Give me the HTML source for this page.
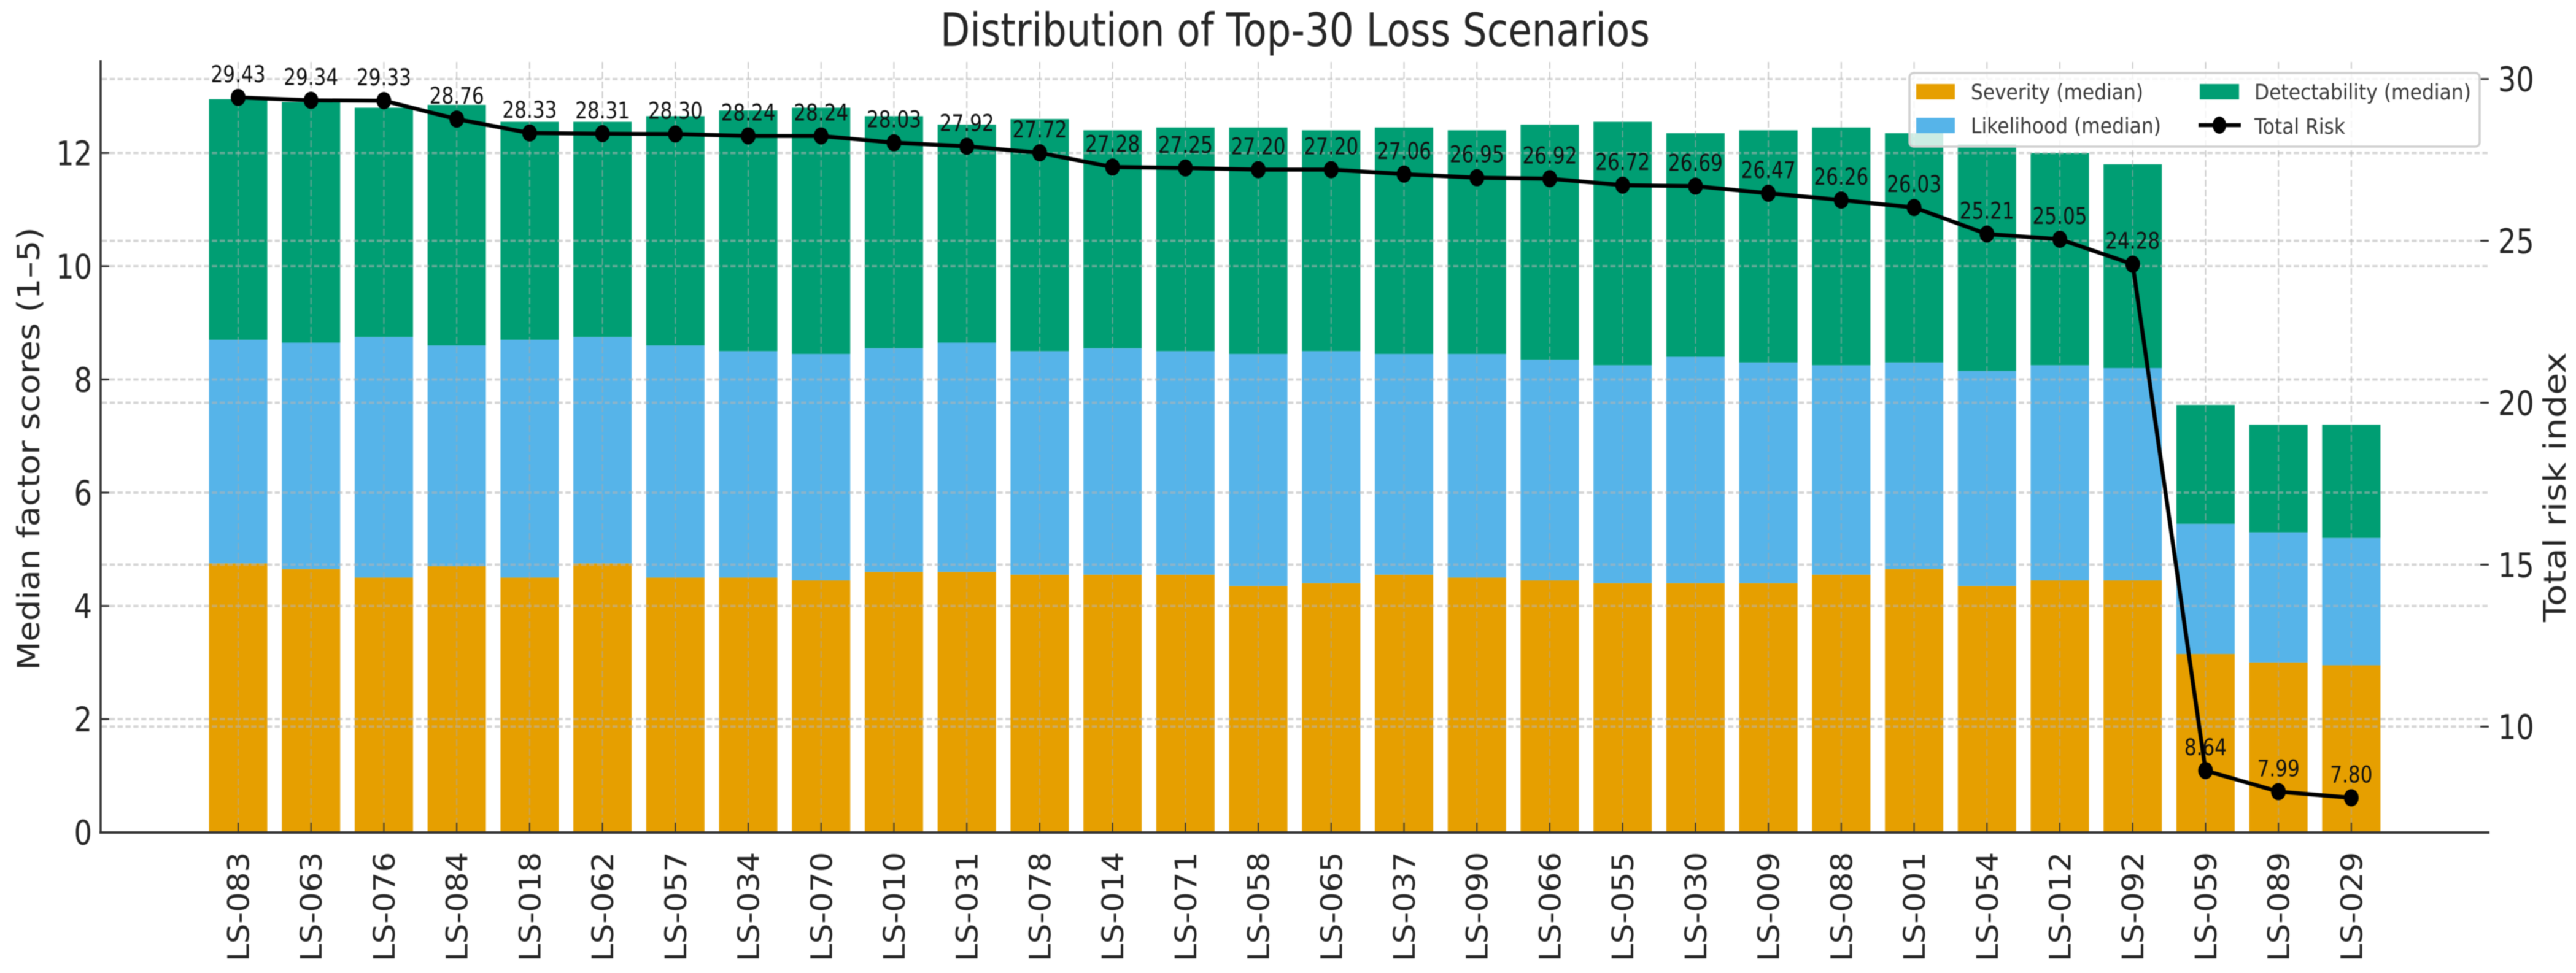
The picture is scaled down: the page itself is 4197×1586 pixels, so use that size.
<!DOCTYPE html>
<html lang="en">
<head>
<meta charset="utf-8">
<title>Distribution of Top-30 Loss Scenarios</title>
<style>
html,body{margin:0;padding:0;background:#fff;}
svg{display:block;}
text{font-family:"DejaVu Sans","Liberation Sans",sans-serif;}
#scene{filter:blur(0.8px);}
</style>
</head>
<body>
<svg id="chart" xmlns="http://www.w3.org/2000/svg" width="4197" height="1586" viewBox="0 0 4197 1586">
  <rect x="0" y="0" width="4197" height="1586" fill="#ffffff"/>
  <g id="scene">
    <text x="2110" y="75" font-size="75" fill="#262626" text-anchor="middle" textLength="1156" lengthAdjust="spacingAndGlyphs">Distribution of Top-30 Loss Scenarios</text>
    <g id="bars"></g>
    <g id="grid"></g>
    <g id="axes"></g>
    <g id="risk"></g>
    <text transform="translate(64,731.5) rotate(-90)" font-size="50" fill="#262626" text-anchor="middle" textLength="722" lengthAdjust="spacingAndGlyphs">Median factor scores (1–5)</text>
    <text transform="translate(4180,794) rotate(-90)" font-size="50" fill="#262626" text-anchor="middle" textLength="440" lengthAdjust="spacingAndGlyphs">Total risk index</text>
    <g>
      <rect x="3111" y="119" width="929" height="120" rx="7" ry="7" fill="#ffffff" fill-opacity="0.8" stroke="#cfcfcf" stroke-width="3.5"/>
      <rect x="3122" y="137" width="63" height="25" fill="#E69F00"/>
      <text x="3211" y="162" font-size="35" fill="#3a3a3a" textLength="281" lengthAdjust="spacingAndGlyphs">Severity (median)</text>
      <rect x="3122" y="192" width="63" height="25" fill="#56B4E9"/>
      <text x="3211" y="217" font-size="35" fill="#3a3a3a" textLength="310" lengthAdjust="spacingAndGlyphs">Likelihood (median)</text>
      <rect x="3584" y="137" width="64" height="25" fill="#009E73"/>
      <text x="3673" y="162" font-size="35" fill="#3a3a3a" textLength="353" lengthAdjust="spacingAndGlyphs">Detectability (median)</text>
      <line x1="3582" y1="204" x2="3651" y2="204" stroke="#000" stroke-width="6.5"/>
      <ellipse cx="3616" cy="204" rx="11" ry="14" fill="#000"/>
      <text x="3673" y="218" font-size="35" fill="#3a3a3a" textLength="148" lengthAdjust="spacingAndGlyphs">Total Risk</text>
    </g>
  </g>
</svg>
<script>
const categories = ["LS-083","LS-063","LS-076","LS-084","LS-018","LS-062","LS-057","LS-034","LS-070","LS-010","LS-031","LS-078","LS-014","LS-071","LS-058","LS-065","LS-037","LS-090","LS-066","LS-055","LS-030","LS-009","LS-088","LS-001","LS-054","LS-012","LS-092","LS-059","LS-089","LS-029"];
const severity = [4.75,4.65,4.5,4.7,4.5,4.75,4.5,4.5,4.45,4.6,4.6,4.55,4.55,4.55,4.35,4.4,4.55,4.5,4.45,4.4,4.4,4.4,4.55,4.65,4.35,4.45,4.45,3.15,3.0,2.95];
const likelihood = [3.95,4.0,4.25,3.9,4.2,4.0,4.1,4.0,4.0,3.95,4.05,3.95,4.0,3.95,4.1,4.1,3.9,3.95,3.9,3.85,4.0,3.9,3.7,3.65,3.8,3.8,3.75,2.3,2.3,2.25];
const detectability = [4.25,4.25,4.05,4.25,3.85,3.8,4.05,4.25,4.35,4.1,3.85,4.1,3.85,3.95,4.0,3.9,4.0,3.95,4.15,4.3,3.95,4.1,4.2,4.05,4.0,3.75,3.6,2.1,1.9,2.0];
const totalRisk = [29.43,29.34,29.33,28.76,28.33,28.31,28.30,28.24,28.24,28.03,27.92,27.72,27.28,27.25,27.20,27.20,27.06,26.95,26.92,26.72,26.69,26.47,26.26,26.03,25.21,25.05,24.28,8.64,7.99,7.80];
const leftTicks = [0,2,4,6,8,10,12];
const rightTicks = [10,15,20,25,30];

const NS = 'http://www.w3.org/2000/svg';
const xAxis = function (i) { return 388 + i * 118.72; };
const yLeft = function (v) { return 1356.7 - v * 92.28; };
const yRight = function (v) { return 1184.3 - (v - 10) * 52.78; };

function make(tag, parent, attrs) {
  const el = document.createElementNS(NS, tag);
  for (const k in attrs) { el.setAttribute(k, attrs[k]); }
  parent.appendChild(el);
  return el;
}

const barsG = document.getElementById('bars');
const gridG = document.getElementById('grid');
const axesG = document.getElementById('axes');
const riskG = document.getElementById('risk');
const BAR_W = 95;

categories.forEach(function (name, i) {
  const x = xAxis(i) - BAR_W / 2;
  const s = severity[i], l = likelihood[i], d = detectability[i];

  const sevBar = make('rect', barsG, { x: x, y: yLeft(s), width: BAR_W, height: yLeft(0) - yLeft(s), fill: '#E69F00' });
  
  

  const likBar = make('rect', barsG, { x: x, y: yLeft(s + l), width: BAR_W, height: yLeft(s) - yLeft(s + l), fill: '#56B4E9' });
  
  

  const detBar = make('rect', barsG, { x: x, y: yLeft(s + l + d), width: BAR_W, height: yLeft(s + l) - yLeft(s + l + d), fill: '#009E73' });
  
  

  const vGrid = make('line', gridG, { x1: xAxis(i), x2: xAxis(i), y1: 101, y2: 1357, stroke: '#a8a8a8', 'stroke-opacity': 0.6, 'stroke-width': 2, 'stroke-dasharray': '11 5' });
  
  

  const tick = make('line', axesG, { x1: xAxis(i), x2: xAxis(i), y1: 1341, y2: 1357, stroke: '#333', 'stroke-width': 2 });
  
  

  const label = make('text', axesG, { transform: 'translate(' + (xAxis(i) + 17.5) + ',1567) rotate(-90) scale(1.03,0.96)', 'font-size': 50, fill: '#262626' });
  label.textContent = name;
  
  
});

leftTicks.forEach(function (v) {
  const y = yLeft(v);
  if (v > 0) {
    const g = make('line', gridG, { x1: 166, x2: 4054, y1: y, y2: y, stroke: '#b4b4b4', 'stroke-opacity': 0.55, 'stroke-width': 4, 'stroke-dasharray': '8.5 4.3' });
    
    
  }
  const tick = make('line', axesG, { x1: 164, x2: 178, y1: y, y2: y, stroke: '#333', 'stroke-width': 3 });
  
  

  const t = make('text', axesG, { transform: 'translate(150,' + (y + 20) + ') scale(0.84,1)', 'font-size': 55, fill: '#262626', 'text-anchor': 'end' });
  t.textContent = String(v);
  
  
});

rightTicks.forEach(function (v) {
  const y = yRight(v);
  const g = make('line', gridG, { x1: 166, x2: 4054, y1: y, y2: y, stroke: '#b4b4b4', 'stroke-opacity': 0.55, 'stroke-width': 4, 'stroke-dasharray': '8.5 4.3' });
  
  

  const tick = make('line', axesG, { x1: 4041, x2: 4055, y1: y, y2: y, stroke: '#333', 'stroke-width': 3 });
  
  

  const t = make('text', axesG, { transform: 'translate(4070,' + (y + 20) + ') scale(0.84,1)', 'font-size': 55, fill: '#262626' });
  t.textContent = String(v);
  
  
});

const leftSpine = make('line', axesG, { x1: 164, x2: 164, y1: 98, y2: 1359, stroke: '#333', 'stroke-width': 3.5 });



const bottomSpine = make('line', axesG, { x1: 162, x2: 4056, y1: 1357, y2: 1357, stroke: '#333', 'stroke-width': 4 });



const riskPoints = totalRisk.map(function (v, i) { return xAxis(i) + ',' + yRight(v); }).join(' ');
const riskLine = make('polyline', riskG, { points: riskPoints, fill: 'none', stroke: '#000', 'stroke-width': 6.5, 'stroke-linejoin': 'round' });



totalRisk.forEach(function (v, i) {
  const m = make('ellipse', riskG, { cx: xAxis(i), cy: yRight(v), rx: 12, ry: 14, fill: '#000' });
  
  

  const t = make('text', riskG, { transform: 'translate(' + xAxis(i) + ',' + (yRight(v) - 25) + ') scale(0.84,1)', 'font-size': 37, fill: '#111', 'text-anchor': 'middle' });
  t.textContent = v.toFixed(2);
  
  
});
</script>
</body>
</html>
